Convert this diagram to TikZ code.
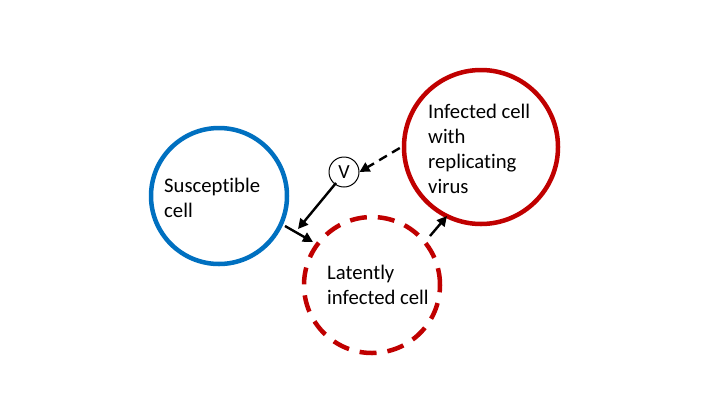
\documentclass[tikz,border=0pt]{standalone}
\usepackage{fontspec}
\setmainfont{Carlito}[Ligatures={NoCommon}]
\usetikzlibrary{arrows.meta}
\definecolor{cblue}{RGB}{0,112,192}
\definecolor{cred}{RGB}{192,0,0}
\begin{document}
\begin{tikzpicture}[x=1pt,y=-1pt,
  cell/.style={circle,draw,line width=4.5pt,fill=white,inner sep=0pt},
  lbl/.style={align=left,font=\fontsize{20.7}{25}\selectfont,inner sep=0pt,anchor=west},
  arr/.style={-{Triangle[length=10pt,width=10pt]},line width=2.4pt}]
\useasboundingbox (0,0) rectangle (720,405);
\node[cell,draw=cblue,minimum size=136pt] (s) at (219,196) {};
\node[cell,draw=cred,minimum size=154pt] (i) at (481,147) {};
\node[cell,draw=cred,dash pattern=on 17pt off 11pt,minimum size=136pt] (l) at (372,285) {};
\node[circle,draw,line width=1pt,minimum size=30pt,inner sep=0pt,font=\fontsize{20}{24}\selectfont] (v) at (344,172) {V};
\node[lbl] (st) at (164,198) {Susceptible\\cell};
\node[lbl] (it) at (428,149) {Infected cell\\with\\replicating\\virus};
\node[lbl] (lt) at (327,285) {Latently\\infected cell};
\draw[arr,dash pattern=on 9pt off 6pt] (i.west) ++(-2,1) coordinate (a1) -- (v.east);
\draw[arr] (v.south west) ++(3,0) coordinate (a2) -- (298,229) coordinate (a3);
\draw[arr] (285,226) coordinate (a4) -- (313,242) coordinate (a5);
\draw[arr] (430,236) coordinate (a6) -- (447,216) coordinate (a7);
\end{tikzpicture}
\end{document}
